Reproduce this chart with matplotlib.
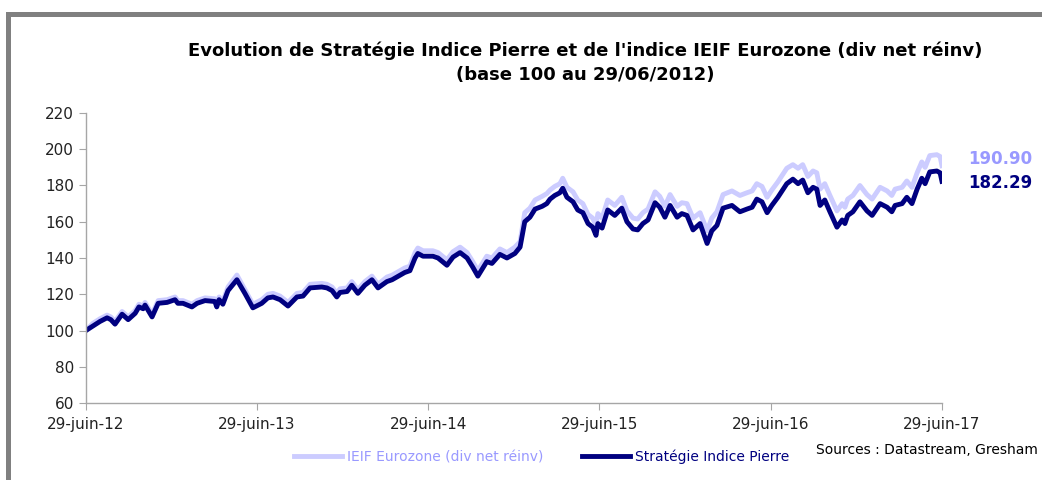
import pandas as pd
from matplotlib import pyplot as plt
from matplotlib.lines import Line2D

dates = [
    "2012-06-29", "2012-07-14", "2012-07-29", "2012-08-13", "2012-08-21", "2012-08-30",
    "2012-09-14", "2012-09-27", "2012-10-12", "2012-10-20", "2012-10-29", "2012-11-02",
    "2012-11-17", "2012-11-30", "2012-12-19", "2013-01-05", "2013-01-11", "2013-01-22",
    "2013-02-10", "2013-02-21", "2013-03-10", "2013-03-31", "2013-04-04", "2013-04-09",
    "2013-04-17", "2013-04-28", "2013-05-17", "2013-06-03", "2013-06-20", "2013-07-09",
    "2013-07-22", "2013-08-02", "2013-08-17", "2013-09-03", "2013-09-22", "2013-10-05",
    "2013-10-20", "2013-11-14", "2013-11-25", "2013-12-06", "2013-12-16", "2013-12-23",
    "2014-01-07", "2014-01-17", "2014-01-30", "2014-02-14", "2014-03-01", "2014-03-14",
    "2014-04-02", "2014-04-13", "2014-04-30", "2014-05-10", "2014-05-21", "2014-06-01",
    "2014-06-07", "2014-06-18", "2014-07-09", "2014-07-20", "2014-08-08", "2014-08-21",
    "2014-09-05", "2014-09-20", "2014-10-02", "2014-10-13", "2014-11-01", "2014-11-12",
    "2014-11-29", "2014-12-14", "2014-12-31", "2015-01-11", "2015-01-21", "2015-02-01",
    "2015-02-12", "2015-02-27", "2015-03-09", "2015-03-16", "2015-03-26", "2015-04-06",
    "2015-04-12", "2015-04-21", "2015-05-04", "2015-05-14", "2015-05-25", "2015-06-05",
    "2015-06-15", "2015-06-22", "2015-06-26", "2015-07-05", "2015-07-17", "2015-08-01",
    "2015-08-16", "2015-08-27", "2015-09-09", "2015-09-19", "2015-09-30", "2015-10-11",
    "2015-10-26", "2015-11-05", "2015-11-16", "2015-11-27", "2015-12-12", "2015-12-22",
    "2016-01-02", "2016-01-15", "2016-01-30", "2016-02-14", "2016-02-24", "2016-03-06",
    "2016-03-19", "2016-04-07", "2016-04-24", "2016-05-09", "2016-05-20", "2016-05-30",
    "2016-06-10", "2016-06-21", "2016-07-01", "2016-07-14", "2016-08-02", "2016-08-15",
    "2016-08-26", "2016-09-05", "2016-09-16", "2016-09-27", "2016-10-05", "2016-10-12",
    "2016-10-22", "2016-11-02", "2016-11-17", "2016-11-28", "2016-12-04", "2016-12-10",
    "2016-12-21", "2017-01-05", "2017-01-20", "2017-01-31", "2017-02-17", "2017-03-04",
    "2017-03-14", "2017-03-21", "2017-04-05", "2017-04-15", "2017-04-26", "2017-05-07",
    "2017-05-17", "2017-05-24", "2017-06-03", "2017-06-18", "2017-06-25", "2017-06-29",
]

strategie = [
    100, 102.5, 105, 107, 106, 103.5,
    109, 106, 109.5, 113, 112, 114,
    107.5, 115, 115.5, 117, 115, 115,
    113, 115, 116.5, 116, 113, 117,
    114.5, 122, 128, 120.5, 112.5, 115,
    118, 118.5, 117, 113.5, 118.5, 119,
    123.5, 124, 123.5, 122, 118.5, 121,
    121.5, 125, 120.5, 125, 128, 123.5,
    127, 128, 130.5, 132, 133, 140,
    142.5, 141, 141, 140, 136, 140.5,
    143, 140, 135, 130, 138, 137,
    142, 140, 142.5, 146, 160, 162.5,
    167, 168.5, 170, 172.5, 174.5, 176,
    178.5, 173.5, 171, 166.5, 165, 159,
    157, 152.5, 159, 156.5, 166.5, 163.5,
    167.5, 160, 156, 155.5, 159, 161,
    170.5, 168, 162.5, 169, 162.5, 164.5,
    163.5, 155.5, 159, 148, 155, 158,
    167.5, 169, 165.5, 167, 168, 172.5,
    171, 165, 169, 173.5, 181, 183.5,
    181, 183, 176, 179, 178, 169,
    172, 165.5, 157, 161, 159, 163.5,
    165.5, 171, 166, 163.5, 170, 168,
    165.5, 169, 170, 173.5, 170, 178,
    184, 181, 187.5, 188, 187, 182.29,
]

ieif = [
    100, 104, 106.5, 108.5, 107.5, 105,
    110.5, 107.5, 111, 114.5, 113.5, 115.5,
    109, 116.5, 117, 118.5, 116.5, 116.5,
    114.5, 116.5, 118, 117.5, 114.5, 118.5,
    116, 124, 130.6, 122.5, 114.5, 117,
    120, 120.5, 119, 115.5, 120.5, 121,
    125.5, 126, 125.5, 124, 120.5, 123,
    123.5, 127, 122.5, 127, 130, 125.5,
    129.5, 130.5, 133, 134.5, 135.5, 143,
    145.5, 144, 144, 143, 139, 143.5,
    146, 143, 138, 133, 141, 140,
    145, 143, 146, 149, 165, 167.5,
    172, 174, 175.5, 177.5, 179.5, 181,
    184, 179, 176.5, 172, 170, 164,
    162, 158, 164.5, 162, 172, 169,
    173.5, 166, 162, 161.5, 165, 167,
    176.5, 174, 168.5, 175, 168.5, 170.5,
    170, 162, 165, 155, 162, 165.5,
    175, 177, 174.5, 176, 177, 181,
    179.5, 173.5, 177.5, 182, 189.5, 191.5,
    189.5, 191.5, 185, 188, 187, 178,
    181, 174.5, 166, 170, 168, 172.5,
    174.5, 180, 175, 172.5, 179, 177,
    174.5, 178, 179, 182.5, 179, 187,
    193, 190, 196.5, 197, 196, 190.90,
]

tick_dates = ["2012-06-29", "2013-06-29", "2014-06-29", "2015-06-29", "2016-06-29", "2017-06-29"]
tick_labels = ["29-juin-12", "29-juin-13", "29-juin-14", "29-juin-15", "29-juin-16", "29-juin-17"]
y_ticks = [60, 80, 100, 120, 140, 160, 180, 200, 220]

light = "#ccccff"
label_light = "#9999ff"
dark = "#000080"
grey = "#a6a6a6"

plt.rcParams['font.family'] = ['DejaVu Sans']

x = pd.to_datetime(dates)
fig = plt.figure(figsize=(10.42, 4.80), dpi=100)
ax = fig.add_axes([0.0825, 0.1604, 0.8215, 0.6042])

ax.plot(x, ieif, color=light, lw=3.5, solid_joinstyle='round', label="IEIF Eurozone (div net réinv)")
ax.plot(x, strategie, color=dark, lw=3.5, solid_joinstyle='round', label="Stratégie Indice Pierre")

ax.set_xlim(pd.Timestamp(tick_dates[0]), pd.Timestamp(tick_dates[-1]))
ax.set_ylim(60, 220)
ax.set_yticks(y_ticks)
ax.set_xticks(pd.to_datetime(tick_dates))
ax.set_xticklabels(tick_labels)

for side in ["top", "right"]:
    ax.spines[side].set_visible(False)
for side in ["left", "bottom"]:
    ax.spines[side].set_color(grey)
    ax.spines[side].set_linewidth(1.0)
ax.tick_params(axis='both', direction='out', length=5, color=grey, labelsize=11, labelcolor="#222222")
ax.tick_params(axis='x', pad=5)

fig.text(0.562, 0.895, "Evolution de Stratégie Indice Pierre et de l'indice IEIF Eurozone (div net réinv)",
         ha='center', va='center', fontsize=13, fontweight='bold')
fig.text(0.562, 0.843, "(base 100 au 29/06/2012)", ha='center', va='center', fontsize=13, fontweight='bold')

ax.annotate("%.2f" % ieif[-1], xy=(1.0, ieif[-1]), xycoords=('axes fraction', 'data'),
            xytext=(19, 5), textcoords='offset points', color=label_light,
            fontsize=12, fontweight='bold', va='center')
ax.annotate("%.2f" % strategie[-1], xy=(1.0, strategie[-1]), xycoords=('axes fraction', 'data'),
            xytext=(19, -1), textcoords='offset points', color=dark,
            fontsize=12, fontweight='bold', va='center')

leg = fig.legend(loc='center', bbox_to_anchor=(0.52, 0.048), ncol=2, frameon=False,
                 fontsize=10, handlelength=3.4, columnspacing=2.8, handletextpad=0.4)
for txt, col in zip(leg.get_texts(), [label_light, dark]):
    txt.set_color(col)

fig.text(0.996, 0.062, "Sources : Datastream, Gresham", ha='right', va='center', fontsize=10)

# gray frame at top and left
fig.add_artist(Line2D([0.008, 1.0], [0.971, 0.971], color="#808080", lw=3.6, transform=fig.transFigure))
fig.add_artist(Line2D([0.008, 0.008], [0.0, 0.971], color="#808080", lw=3.6, transform=fig.transFigure))

fig.savefig("out.png", dpi=100)
